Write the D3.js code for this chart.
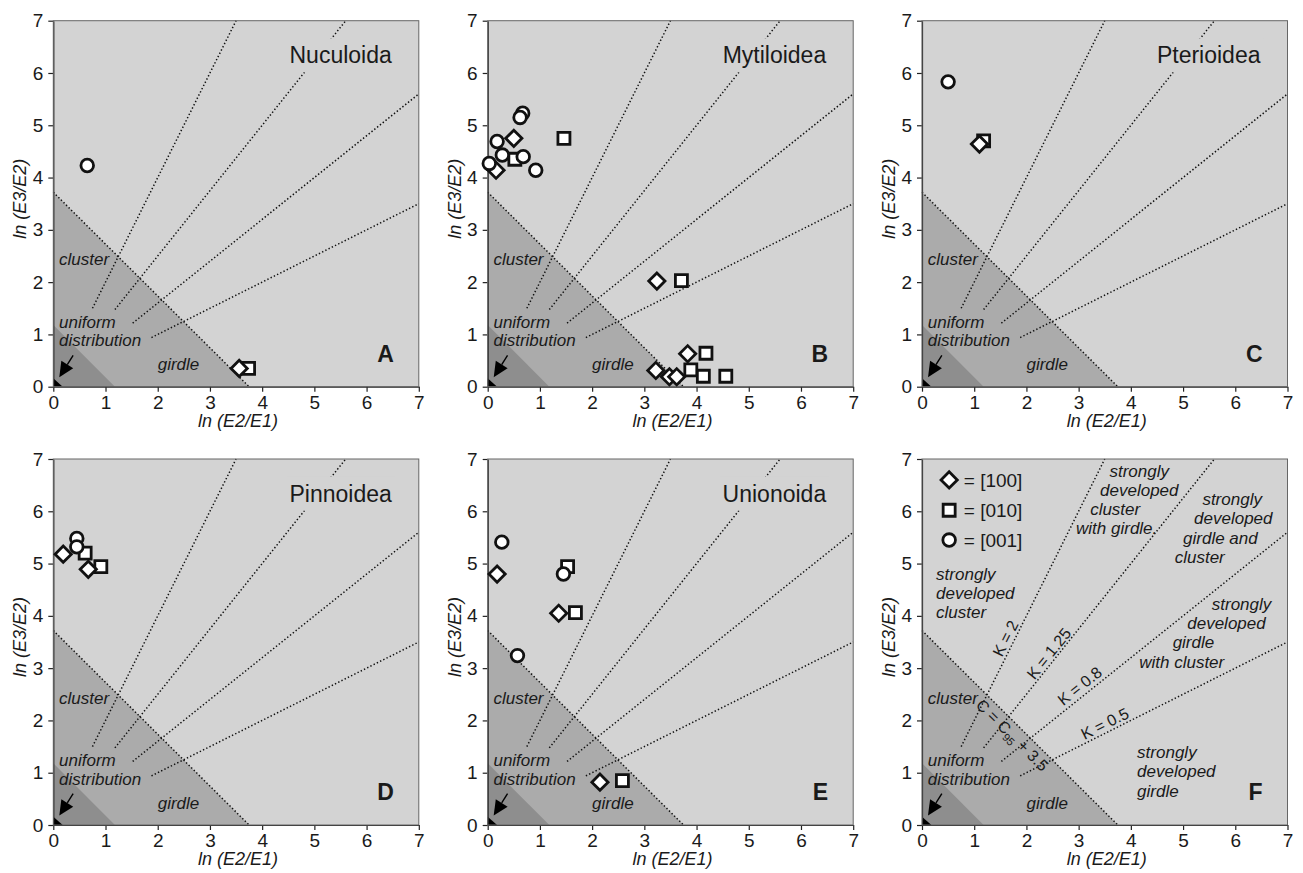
<!DOCTYPE html>
<html>
<head>
<meta charset="utf-8">
<script src="https://cdn.jsdelivr.net/npm/d3@7"></script>
<style>
  body { margin: 0; background: #fff; }
  svg text { font-family: "Liberation Sans", Arial, Helvetica, sans-serif; fill: #1a1a1a; }
</style>
</head>
<body>
<svg id="chart" width="1303" height="873"></svg>
<script>
// ---- data ----
const panelNames = ["Nuculoida", "Mytiloidea", "Pterioidea", "Pinnoidea", "Unionoida", ""];
const panelLetters = ["A", "B", "C", "D", "E", "F"];
const ticks = [0, 1, 2, 3, 4, 5, 6, 7];

// [100] axis (diamonds), one list per panel, [ln(E2/E1), ln(E3/E2)]
const axis100 = [
    [[3.56, 0.35]],
    [[0.16, 4.14], [0.50, 4.75], [3.24, 2.02], [3.83, 0.63], [3.22, 0.31], [3.48, 0.19], [3.62, 0.19]],
    [[1.10, 4.64]],
    [[0.19, 5.18], [0.67, 4.89]],
    [[0.18, 4.80], [1.36, 4.05], [2.15, 0.82]],
    []
];
// [010] axis (squares)
const axis010 = [
    [[3.74, 0.35]],
    [[0.52, 4.35], [1.46, 4.75], [3.71, 2.03], [4.18, 0.64], [3.89, 0.32], [4.13, 0.20], [4.56, 0.20]],
    [[1.18, 4.70]],
    [[0.61, 5.20], [0.91, 4.94]],
    [[1.53, 4.94], [1.68, 4.06], [2.58, 0.85]],
    []
];
// [001] axis (circles)
const axis001 = [
    [[0.65, 4.23]],
    [[0.03, 4.27], [0.18, 4.69], [0.28, 4.43], [0.67, 5.23], [0.62, 5.15], [0.68, 4.40], [0.92, 4.14]],
    [[0.50, 5.83]],
    [[0.45, 5.48], [0.45, 5.32]],
    [[0.27, 5.41], [1.45, 4.80], [0.57, 3.24]],
    []
];

// K = ln(E3/E2)/ln(E2/E1) guide lines and where each one starts
const kValues = [2, 1.25, 0.8, 0.5];
const kStartX = [0.75, 1.18, 1.52, 1.88];
const kLabels = ["K = 2", "K = 1.25", "K = 0.8", "K = 0.5"];
// C = C95 + 3.5 line and the uniform / cluster-girdle boundary
const cLine = [[0, 3.72], [3.75, 0]];
const uniformEdge = [[0, 1.18], [1.18, 0]];
const originCorner = [[0, 0], [0, 0.16], [0.18, 0]];

const legendLabels = ["= [100]", "= [010]", "= [001]"];

// ---- layout ----
const svg = d3.select("#chart");
const colLeft = [53.3, 487.7, 922];
const rowTop = [20.7, 459];
const W = 365.5, H = 366;
const light = "#d3d3d3", mid = "#ababab", dark = "#8e8e8e";
const ink = "#111";

//region labels shown in each panel (data coordinates)
const regionText = [
    {t: "cluster", x: 0.11, y: 2.32},
    {t: "uniform", x: 0.11, y: 1.12},
    {t: "distribution", x: 0.11, y: 0.77},
    {t: "girdle", x: 2.0, y: 0.31}
];
// extra labels only in F
const fieldText = [
    {lines: ["strongly", "developed", "cluster"], x: [0.27, 0.27, 0.27], y: [4.69, 4.32, 3.95]},
    {lines: ["strongly", "developed", "cluster", "with girdle."], x: [3.59, 3.41, 3.22, 2.95], y: [6.66, 6.29, 5.93, 5.56]},
    {lines: ["strongly", "developed", "girdle and", "cluster"], x: [5.37, 5.21, 5.0, 4.84], y: [6.12, 5.75, 5.38, 5.01]},
    {lines: ["strongly", "developed", "girdle", "with cluster"], x: [5.55, 5.08, 4.80, 4.16], y: [4.11, 3.74, 3.38, 3.01]},
    {lines: ["strongly", "developed", "girdle"], x: [4.12, 4.12, 4.12], y: [1.28, 0.91, 0.54]}
];
const kLabelAt = [[1.60, 3.57], [2.43, 3.28], [3.02, 2.66], [3.50, 1.94]];
const cLabelAt = [1.73, 1.72];

const diamond = d3.symbol().type(d3.symbolSquare).size(132);
const square = d3.symbol().type(d3.symbolSquare).size(144);
const circle = d3.symbol().type(d3.symbolCircle).size(125);

function dotted(sel) {
    sel.attr("fill", "none").attr("stroke", "#111").attr("stroke-width", 1.5)
        .attr("stroke-dasharray", "1.4 2.2");
}

function drawPanel(i) {
    const g = svg.append("g")
        .attr("transform", "translate(" + colLeft[i % 3] + "," + rowTop[Math.floor(i / 3)] + ")");
    const x = d3.scaleLinear().domain([0, 7]).range([0, W]);
    const y = d3.scaleLinear().domain([0, 7]).range([H, 0]);
    const line = d3.line().x(d => x(d[0])).y(d => y(d[1]));

    //shaded fields
    g.append("rect").attr("width", W).attr("height", H).attr("fill", light);
    g.append("path").attr("d", line([[0, 0], cLine[0], cLine[1]]) + "Z").attr("fill", mid);
    g.append("path").attr("d", line([[0, 0], uniformEdge[0], uniformEdge[1]]) + "Z").attr("fill", dark);
    g.append("path").attr("d", line(originCorner) + "Z").attr("fill", "#000");

    //dotted guide lines
    kValues.forEach((k, j) => {
        const endX = Math.min(7, 7 / k);
        g.append("path")
            .attr("d", line([[kStartX[j], kStartX[j] * k], [endX, endX * k]]))
            .call(dotted);
    });
    g.append("path").attr("d", line(cLine)).call(dotted);

    //arrow pointing to the origin
    const p0 = [x(0.38), y(0.6)], tip = [x(0.115), y(0.18)];
    const dx = tip[0] - p0[0], dy = tip[1] - p0[1], len = Math.hypot(dx, dy);
    const ux = dx / len, uy = dy / len, hl = 15, hw = 7;
    const bx = tip[0] - ux * hl, by = tip[1] - uy * hl;
    g.append("line").attr("x1", p0[0]).attr("y1", p0[1]).attr("x2", bx).attr("y2", by)
        .attr("stroke", "#000").attr("stroke-width", 1.4);
    g.append("path")
        .attr("d", "M" + tip + "L" + [bx - uy * hw, by + ux * hw] + "L" + [bx + uy * hw, by - ux * hw] + "Z")
        .attr("fill", "#000");

    //region labels
    regionText.forEach(r => {
        g.append("text").attr("x", x(r.x)).attr("y", y(r.y))
            .attr("font-size", 17).attr("font-style", "italic").text(r.t);
    });

    //title with a background patch that hides the guide line
    if (panelNames[i]) {
        const t = g.append("text").attr("x", W - 27).attr("y", 42.6)
            .attr("text-anchor", "end").attr("font-size", 23).text(panelNames[i]);
        const bb = t.node().getBBox();
        g.insert("rect", "text").attr("x", bb.x - 3).attr("y", bb.y - 4)
            .attr("width", bb.width + 6).attr("height", bb.height + 8).attr("fill", light);
    }

    //panel letter
    g.append("text").attr("x", W - 25).attr("y", H - 25).attr("text-anchor", "end")
        .attr("font-size", 23).attr("font-weight", "bold").text(panelLetters[i]);

    if (i === 5) drawKeyExtras(g, x, y);

    //axes
    const ax = g.append("g").attr("transform", "translate(0," + H + ")")
        .call(d3.axisBottom(x).tickValues(ticks).tickFormat(d3.format("d"))
            .tickSize(5).tickPadding(4).tickSizeOuter(0));
    const ay = g.append("g")
        .call(d3.axisLeft(y).tickValues(ticks).tickFormat(d3.format("d"))
            .tickSize(5).tickPadding(5).tickSizeOuter(0));
    [ax, ay].forEach(a => {
        a.attr("font-family", null);
        a.selectAll("text").attr("font-size", 19).style("fill", "#1a1a1a");
        a.selectAll("line, path").attr("stroke", "#222").attr("stroke-width", 1.2);
    });
    g.append("rect").attr("width", W).attr("height", H)
        .attr("fill", "none").attr("stroke", "#666").attr("stroke-width", 1);

    g.append("text").attr("x", W / 2 + 2).attr("y", H + 40).attr("text-anchor", "middle")
        .attr("font-size", 18).attr("font-style", "italic").text("ln (E2/E1)");
    g.append("text").attr("transform", "translate(-27," + (H / 2 - 5) + ") rotate(-90)")
        .attr("text-anchor", "middle").attr("font-size", 18).attr("font-style", "italic")
        .text("ln (E3/E2)");

    //orientation data
    const marks = g.append("g").attr("fill", "#fff").attr("stroke", ink).attr("stroke-width", 2.8);
    marks.selectAll(".sq").data(axis010[i]).enter().append("path")
        .attr("class", "sq").attr("d", square)
        .attr("transform", d => "translate(" + x(d[0]) + "," + y(d[1]) + ")");
    marks.selectAll(".dm").data(axis100[i]).enter().append("path")
        .attr("class", "dm").attr("d", diamond)
        .attr("transform", d => "translate(" + x(d[0]) + "," + y(d[1]) + ") rotate(45)");
    marks.selectAll(".ci").data(axis001[i]).enter().append("path")
        .attr("class", "ci").attr("d", circle)
        .attr("transform", d => "translate(" + x(d[0]) + "," + y(d[1]) + ")");
}

function drawKeyExtras(g, x, y) {
    //legend
    const legY = [6.6, 6.02, 5.45];
    const shapes = [diamond, square, circle];
    legendLabels.forEach((lab, j) => {
        g.append("path").attr("d", shapes[j])
            .attr("transform", "translate(" + x(0.52) + "," + y(legY[j]) + ")" + (j === 0 ? " rotate(45)" : ""))
            .attr("fill", "#fff").attr("stroke", ink).attr("stroke-width", 2.8);
        g.append("text").attr("x", x(0.8)).attr("y", y(legY[j]) + 7)
            .attr("font-size", 19).text(lab);
    });

    //field names
    fieldText.forEach(f => {
        f.lines.forEach((s, j) => {
            g.append("text").attr("x", x(f.x[j])).attr("y", y(f.y[j]))
                .attr("font-size", 17).attr("font-style", "italic").text(s);
        });
    });

    //K labels along the guide lines
    kValues.forEach((k, j) => {
        const ang = -Math.atan(k) * 180 / Math.PI;
        g.append("text")
            .attr("transform", "translate(" + x(kLabelAt[j][0]) + "," + y(kLabelAt[j][1]) + ") rotate(" + ang + ")")
            .attr("text-anchor", "middle").attr("dy", "0.35em")
            .attr("font-size", 16).text(kLabels[j]);
    });

    //C = C95 + 3.5 label
    const cAng = Math.atan((y(cLine[1][1]) - y(cLine[0][1])) / (x(cLine[1][0]) - x(cLine[0][0]))) * 180 / Math.PI;
    const ct = g.append("text")
        .attr("transform", "translate(" + x(cLabelAt[0]) + "," + y(cLabelAt[1]) + ") rotate(" + cAng + ")")
        .attr("text-anchor", "middle").attr("dy", "0.35em").attr("font-size", 16);
    ct.append("tspan").text("C = C");
    ct.append("tspan").attr("font-size", 11).attr("dy", 4).text("95");
    ct.append("tspan").attr("dy", -4).text(" + 3.5");
}

d3.range(6).forEach(drawPanel);
</script>
</body>
</html>
